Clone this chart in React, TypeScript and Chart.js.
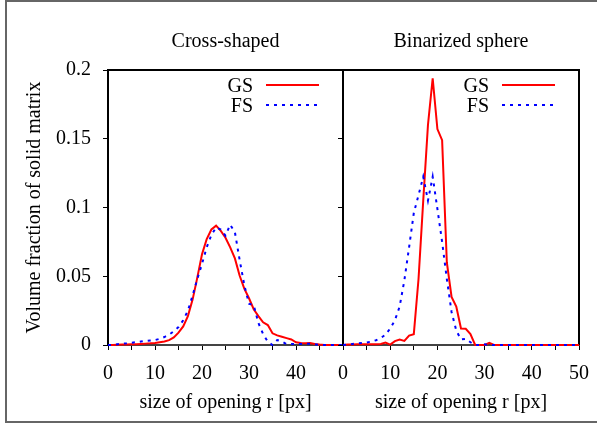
import React, { useEffect, useRef } from 'react';
import { Chart, registerables } from 'chart.js';

Chart.register(...registerables);

// ---- data ----
const openingSizes = [
  0, 1, 2, 3, 4, 5, 6, 7, 8, 9, 10, 11, 12, 13, 14, 15, 16, 17, 18, 19, 20, 21, 22, 23, 24, 25,
  26, 27, 28, 29, 30, 31, 32, 33, 34, 35, 36, 37, 38, 39, 40, 41, 42, 43, 44, 45, 46, 47, 48, 49, 50,
];

const crossGS = [
  0, 0, 0.0002, 0.0003, 0.0004, 0.0005, 0.0006, 0.0008, 0.001, 0.0012, 0.0015, 0.002, 0.0025,
  0.0035, 0.0055, 0.009, 0.0135, 0.021, 0.033, 0.049, 0.066, 0.077, 0.084, 0.0868, 0.083, 0.078,
  0.071, 0.063, 0.0505, 0.041, 0.034, 0.026, 0.021, 0.0165, 0.0145, 0.0085, 0.007, 0.006, 0.005,
  0.004, 0.002, 0.0015, 0.0012, 0.0015, 0.0008, 0.0003, 0, 0, 0, 0, 0,
];

const crossFS = [
  0, 0, 0.0005, 0.001, 0.0013, 0.0017, 0.002, 0.0025, 0.003, 0.0033, 0.0036, 0.0045, 0.0058,
  0.0075, 0.01, 0.013, 0.018, 0.025, 0.036, 0.048, 0.059, 0.071, 0.08, 0.0855, 0.084, 0.0795,
  0.0875, 0.082, 0.062, 0.0436, 0.03, 0.029, 0.016, 0.008, 0.0024, 0, 0.0036, 0.0025, 0.0007,
  0.0007, 0.0007, 0.0008, 0.001, 0.001, 0.0005, 0, 0, 0, 0, 0, 0,
];

const sphereGS = [
  0, 0.0003, 0.0003, 0.0005, 0.0005, 0.0005, 0.0005, 0.0005, 0.0007, 0.0017, 0.0003, 0.0028,
  0.004, 0.003, 0.0068, 0.0078, 0.048, 0.105, 0.16, 0.194, 0.157, 0.149, 0.06, 0.035, 0.028,
  0.012, 0.0118, 0.008, 0, 0, 0, 0.0015, 0, 0, 0, 0, 0, 0, 0, 0, 0, 0, 0, 0, 0, 0, 0, 0, 0, 0, 0,
];

const sphereFS = [
  0, 0.0003, 0.0008, 0.0012, 0.0015, 0.0018, 0.0025, 0.0035, 0.005, 0.0075, 0.012, 0.018, 0.028,
  0.047, 0.071, 0.096, 0.109, 0.1224, 0.105, 0.1224, 0.099, 0.075, 0.048, 0.024, 0.0105, 0.004,
  0.0045, 0.002, 0, 0, 0.0005, 0, 0, 0, 0, 0, 0, 0, 0, 0, 0, 0, 0, 0, 0, 0, 0, 0, 0, 0, 0,
];

const panelTitles = ['Cross-shaped', 'Binarized sphere'];
const seriesNames = ['GS', 'FS'];
const yTickValues = [0, 0.05, 0.1, 0.15, 0.2];
const yTickLabels = ['0', '0.05', '0.1', '0.15', '0.2'];
const xAxisTitle = 'size of opening r [px]';
const yAxisTitle = 'Volume fraction of solid matrix';

const FAMILY = "'Liberation Serif', 'Times New Roman', serif";
const TEXT = '#000';

const panelPlugin = {
  id: 'panel',
  beforeDatasetsDraw(chart: any) {
    const { ctx, chartArea: a } = chart;
    ctx.save();
    ctx.strokeStyle = '#000';
    ctx.lineWidth = 2;
    ctx.beginPath();
    ctx.moveTo(a.left, a.top);
    ctx.lineTo(a.right, a.top);
    ctx.lineTo(a.right, a.bottom);
    ctx.stroke();
    ctx.restore();
  },
  afterDatasetsDraw(chart: any, _args: any, o: any) {
    const { ctx, chartArea: a } = chart;
    ctx.save();
    ctx.font = `20px ${FAMILY}`;
    ctx.fillStyle = TEXT;
    ctx.textBaseline = 'alphabetic';
    ctx.textAlign = 'center';
    ctx.fillText(o.title || '', (a.left + a.right) / 2, 46.5);
    chart.data.datasets.forEach((ds: any, i: number) => {
      ctx.textAlign = 'right';
      ctx.fillStyle = TEXT;
      ctx.fillText(ds.label, a.right - 90, a.top + 21.5 + 20 * i);
      ctx.beginPath();
      ctx.strokeStyle = ds.borderColor;
      ctx.lineWidth = ds.borderWidth;
      ctx.setLineDash(ds.borderDash || []);
      const y = a.top + 15 + 20 * i;
      ctx.moveTo(a.right - 77, y);
      ctx.lineTo(a.right - 24, y);
      ctx.stroke();
      ctx.setLineDash([]);
    });
    ctx.restore();
  },
};

function makeConfig(title: string, gs: number[], fs: number[], showY: boolean, padRight: number): any {
  const toPts = (vals: number[]) => openingSizes.map((r, i) => ({ x: r, y: vals[i] }));
  return {
    type: 'line',
    data: {
      datasets: [
        {
          label: seriesNames[0],
          data: toPts(gs),
          borderColor: '#ff0000',
          borderWidth: 2,
          pointRadius: 0,
          tension: 0,
          clip: false,
          order: 1,
        },
        {
          label: seriesNames[1],
          data: toPts(fs),
          borderColor: '#0000ff',
          borderWidth: 2,
          borderDash: [3, 5],
          pointRadius: 0,
          tension: 0,
          clip: false,
          order: 0,
        },
      ],
    },
    options: {
      responsive: false,
      animation: false,
      devicePixelRatio: 1,
      layout: { autoPadding: false, padding: { left: 0, top: 70, right: padRight, bottom: 0 } },
      plugins: {
        legend: { display: false },
        tooltip: { enabled: false },
        title: { display: false },
        panel: { title },
      },
      scales: {
        x: {
          type: 'linear',
          min: 0,
          max: 50,
          ticks: {
            stepSize: 5,
            autoSkip: false,
            maxRotation: 0,
            padding: 12,
            color: TEXT,
            font: { family: FAMILY, size: 20 },
            callback: (v: number) =>
              v % 10 === 0 && !(showY && v === 50) ? String(v) : '',
          },
          grid: { drawOnChartArea: false, drawTicks: true, tickLength: 5, color: '#000', tickWidth: 1 },
          border: { display: true, color: '#444', width: 2 },
          title: {
            display: true,
            text: xAxisTitle,
            color: TEXT,
            font: { family: FAMILY, size: 20 },
            padding: { top: 0, bottom: 8 },
          },
          afterFit: (s: any) => {
            s.height = 78;
            s.paddingLeft = 0;
            s.paddingRight = 0;
          },
        },
        y: {
          type: 'linear',
          min: 0,
          max: 0.2,
          afterBuildTicks: (s: any) => {
            s.ticks = yTickValues.map((v) => ({ value: v }));
          },
          ticks: {
            padding: 12,
            color: TEXT,
            font: { family: FAMILY, size: 20 },
            callback: (v: number) => {
              if (!showY) return '';
              const idx = yTickValues.findIndex((t) => Math.abs(t - v) < 1e-9);
              return idx >= 0 ? yTickLabels[idx] : '';
            },
          },
          grid: { drawOnChartArea: false, drawTicks: true, tickLength: 5, color: '#000', tickWidth: 1 },
          border: { display: true, color: '#000', width: 2 },
          title: {
            display: showY,
            text: yAxisTitle,
            color: TEXT,
            font: { family: FAMILY, size: 20 },
            padding: { top: 23, bottom: 0 },
          },
          afterFit: (s: any) => {
            s.width = showY ? 108 : 5;
            s.paddingTop = 0;
            s.paddingBottom = 0;
          },
        },
      },
    },
    plugins: [panelPlugin],
  };
}

export default function App() {
  const leftRef = useRef<HTMLCanvasElement>(null);
  const rightRef = useRef<HTMLCanvasElement>(null);

  useEffect(() => {
    let charts: Chart[] = [];
    let cancelled = false;
    const build = () => {
      if (cancelled || !leftRef.current || !rightRef.current) return;
      charts.push(new Chart(leftRef.current, makeConfig(panelTitles[0], crossGS, crossFS, true, 1)));
      charts.push(new Chart(rightRef.current, makeConfig(panelTitles[1], sphereGS, sphereFS, false, 18)));
    };
    const fontsApi: any = (document as any).fonts;
    if (fontsApi && fontsApi.load) {
      fontsApi.load(`20px ${FAMILY}`).then(build, build);
    } else {
      build();
    }
    return () => {
      cancelled = true;
      charts.forEach((c) => c.destroy());
      charts = [];
    };
  }, []);

  return (
    <div
      style={{
        position: 'fixed',
        left: 0,
        top: 0,
        width: 597,
        height: 423,
        overflow: 'hidden',
        background: '#fff',
      }}
    >
      <div
        style={{
          position: 'absolute',
          left: 5,
          top: 0,
          width: 592,
          height: 423,
          boxSizing: 'border-box',
          borderLeft: '2px solid #666',
          borderTop: '2px solid #666',
          borderBottom: '2px solid #666',
        }}
      />
      <canvas
        ref={leftRef}
        width={344}
        height={423}
        style={{ position: 'absolute', left: 0, top: 0, width: 344, height: 423 }}
      />
      <canvas
        ref={rightRef}
        width={259}
        height={423}
        style={{ position: 'absolute', left: 338, top: 0, width: 259, height: 423 }}
      />
    </div>
  );
}
